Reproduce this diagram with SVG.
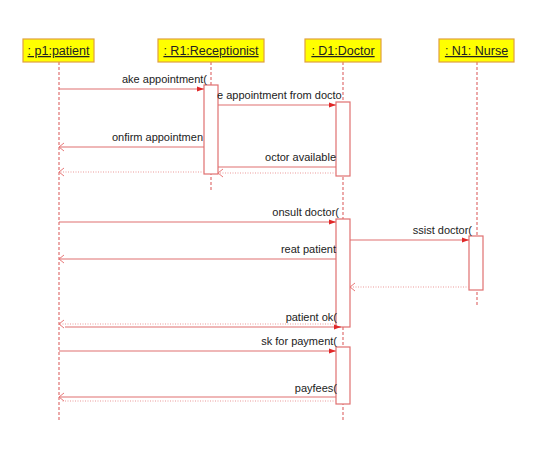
<svg xmlns="http://www.w3.org/2000/svg" width="547" height="464" viewBox="0 0 547 464">
<defs>
<marker id="fill" markerWidth="8" markerHeight="8" refX="7" refY="4" orient="auto" markerUnits="userSpaceOnUse">
<path d="M0,1.5 L7,4 L0,6.5 Z" fill="#e02828"/>
</marker>
<marker id="openR" markerWidth="10" markerHeight="10" refX="9" refY="5" orient="auto" markerUnits="userSpaceOnUse">
<path d="M4,1 L9,5 L4,9" fill="none" stroke="#e87878" stroke-width="1"/>
</marker>
</defs>
<style>
.hdr{fill:#ffff00;stroke:#e0a040;stroke-width:1.2}
.ht{font-family:"Liberation Sans",Arial,sans-serif;font-size:12.5px;fill:#222;text-decoration:underline;text-anchor:middle}
.life{stroke:#e07070;stroke-width:1.2;stroke-dasharray:3,2;fill:none}
.act{fill:#fff;stroke:#e07070;stroke-width:1.2}
.msg{stroke:#e07070;stroke-width:1.2;fill:none}
.ret{stroke:#ec9a9a;stroke-width:1.2;stroke-dasharray:1,1.5;fill:none}
.lbl{font-family:"Liberation Sans",Arial,sans-serif;font-size:11px;fill:#222}
.e{text-anchor:end}
</style>
<rect width="547" height="464" fill="#fff"/>
<g id="lifelines">
<line class="life" x1="59" y1="62" x2="59" y2="422"/>
<line class="life" x1="211" y1="62" x2="211" y2="192"/>
<line class="life" x1="343" y1="62" x2="343" y2="422"/>
<line class="life" x1="477" y1="62" x2="477" y2="307"/>
</g>
<g id="p1">
<rect class="hdr" x="23" y="39" width="71" height="23"/>
<text class="ht" x="58.5" y="55">: p1:patient</text>
</g>
<g id="r1">
<rect class="hdr" x="158" y="39" width="106" height="23"/>
<text class="ht" x="211" y="55">: R1:Receptionist</text>
</g>
<g id="d1">
<rect class="hdr" x="305" y="39" width="76" height="23"/>
<text class="ht" x="343" y="55">: D1:Doctor</text>
</g>
<g id="n1">
<rect class="hdr" x="439" y="39" width="75" height="23"/>
<text class="ht" x="476.5" y="55">: N1: Nurse</text>
</g>
<g id="activations">
<rect class="act" x="204" y="85" width="14" height="89"/>
<rect class="act" x="336" y="102" width="14" height="74"/>
<rect class="act" x="336" y="219" width="14" height="108"/>
<rect class="act" x="469" y="236" width="14" height="54"/>
<rect class="act" x="336" y="347" width="14" height="57"/>
</g>
<g id="connectors">
<line class="msg" x1="59" y1="89" x2="204" y2="89" marker-end="url(#fill)"/>
<line class="msg" x1="218" y1="105" x2="336" y2="105" marker-end="url(#fill)"/>
<line class="msg" x1="204" y1="147" x2="59" y2="147" marker-end="url(#openR)"/>
<line class="msg" x1="336" y1="167" x2="218" y2="167"/>
<line class="ret" x1="336" y1="173" x2="218" y2="173" marker-end="url(#openR)"/>
<line class="ret" x1="204" y1="172" x2="59" y2="172" marker-end="url(#openR)"/>
<line class="msg" x1="59" y1="222" x2="336" y2="222" marker-end="url(#fill)"/>
<line class="msg" x1="350" y1="240" x2="469" y2="240" marker-end="url(#fill)"/>
<line class="msg" x1="336" y1="259" x2="59" y2="259" marker-end="url(#openR)"/>
<line class="ret" x1="469" y1="287" x2="350" y2="287" marker-end="url(#openR)"/>
<line class="ret" x1="336" y1="324" x2="59" y2="324" marker-end="url(#openR)"/>
<line class="msg" x1="65" y1="327" x2="341" y2="327" marker-end="url(#fill)"/>
<line class="msg" x1="59" y1="351" x2="336" y2="351" marker-end="url(#fill)"/>
<line class="msg" x1="336" y1="397" x2="59" y2="397" marker-end="url(#openR)"/>
<line class="ret" x1="336" y1="401" x2="61" y2="401"/>
</g>
<g id="labels">
<text class="lbl e" x="207" y="83">ake appointment(</text>
<text class="lbl" x="217" y="99">e appointment from docto</text>
<text class="lbl e" x="203" y="141">onfirm appointmen</text>
<text class="lbl e" x="336" y="161">octor available</text>
<text class="lbl e" x="339" y="216">onsult doctor(</text>
<text class="lbl e" x="472" y="234">ssist doctor(</text>
<text class="lbl e" x="336" y="253">reat patient</text>
<text class="lbl e" x="337" y="321">patient ok(</text>
<text class="lbl e" x="337" y="345">sk for payment(</text>
<text class="lbl e" x="337" y="392">payfees(</text>
</g>
</svg>
